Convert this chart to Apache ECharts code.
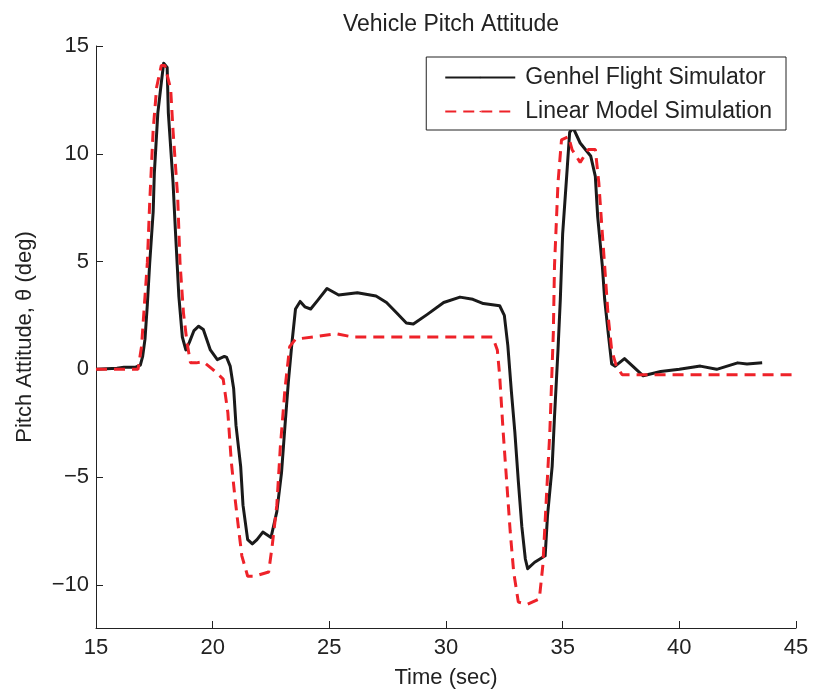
<!DOCTYPE html>
<html>
<head>
<meta charset="utf-8">
<script src="https://cdn.jsdelivr.net/npm/echarts@6/dist/echarts.min.js"></script>
<style>
  html, body { margin: 0; padding: 0; background: #fff; }
  #chart { width: 814px; height: 694px; }
</style>
</head>
<body>
<div id="chart"></div>
<script>
// Pitch attitude response: nonlinear Genhel simulation vs. linear model
const genhelTime = [15.0, 15.9, 16.2, 16.7, 16.9, 17.0, 17.1, 17.2, 17.3, 17.45, 17.5, 17.65, 17.8, 17.9, 18.05, 18.1, 18.3, 18.4, 18.55, 18.7, 18.85, 19.0, 19.2, 19.4, 19.6, 19.9, 20.2, 20.5, 20.6, 20.75, 20.9, 21.0, 21.2, 21.3, 21.5, 21.7, 21.9, 22.15, 22.5, 22.75, 22.95, 23.1, 23.25, 23.4, 23.55, 23.75, 23.95, 24.2, 24.5, 24.9, 25.4, 26.2, 27.0, 27.45, 27.9, 28.3, 28.6, 29.2, 29.9, 30.6, 31.15, 31.6, 32.3, 32.5, 32.65, 32.8, 32.95, 33.1, 33.25, 33.4, 33.5, 33.8, 34.25, 34.35, 34.55, 34.65, 34.8, 34.9, 35.0, 35.2, 35.3, 35.45, 35.75, 36.2, 36.4, 36.5, 36.7, 36.8, 36.95, 37.1, 37.25, 37.65, 38.0, 38.45, 39.2, 40.0, 40.9, 41.6, 42.5, 42.9, 43.55];
const genhelPitch = [0, 0.05, 0.1, 0.1, 0.2, 0.6, 1.4, 3.0, 4.9, 7.3, 9.1, 11.9, 13.3, 14.2, 14.0, 11.9, 8.7, 6.5, 3.4, 1.5, 0.9, 1.25, 1.8, 2.0, 1.85, 0.9, 0.45, 0.6, 0.55, 0.15, -0.9, -2.6, -4.5, -6.3, -7.9, -8.1, -7.9, -7.55, -7.8, -6.6, -4.8, -2.6, -0.5, 1.25, 2.8, 3.15, 2.9, 2.8, 3.2, 3.75, 3.45, 3.55, 3.4, 3.1, 2.6, 2.15, 2.1, 2.55, 3.1, 3.35, 3.25, 3.05, 2.95, 2.5, 1.1, -1.0, -2.9, -5.2, -7.3, -8.8, -9.25, -8.95, -8.65, -6.8, -4.5, -2.2, 0.9, 3.25, 6.3, 9.4, 11.0, 11.2, 10.5, 9.9, 8.95, 7.1, 4.8, 3.25, 1.7, 0.25, 0.15, 0.5, 0.15, -0.3, -0.1, 0, 0.15, 0, 0.3, 0.25, 0.3];

const linearTime = [15.0, 16.8, 16.95, 17.2, 17.3, 17.45, 17.6, 17.8, 17.95, 18.2, 18.3, 18.5, 18.6, 18.75, 18.9, 19.05, 19.3, 19.6, 20.0, 20.45, 20.65, 20.8, 20.95, 21.1, 21.25, 21.5, 21.8, 22.4, 22.55, 22.75, 22.9, 23.1, 23.3, 23.55, 24.3, 25.3, 26.0, 32.0, 32.2, 32.3, 32.45, 32.6, 32.75, 32.9, 33.1, 33.5, 34.0, 34.15, 34.3, 34.45, 34.6, 34.65, 34.8, 34.95, 35.25, 35.4, 35.75, 36.1, 36.4, 36.55, 36.7, 36.8, 36.95, 37.1, 37.3, 37.55, 38.0, 45.0];
const linearPitch = [0, 0, 1.05, 4.95, 7.7, 11.1, 13.1, 14.1, 14.1, 13.0, 11.1, 8.0, 4.95, 2.6, 1.25, 0.3, 0.3, 0.35, 0, -0.45, -2.0, -4.3, -5.9, -7.3, -8.65, -9.6, -9.6, -9.4, -8.2, -6.3, -3.6, -0.9, 1.05, 1.4, 1.5, 1.65, 1.5, 1.5, 0.9, -0.3, -2.9, -5.2, -7.5, -9.4, -10.8, -10.9, -10.65, -9.1, -6.0, -2.9, 1.7, 4.8, 8.65, 10.65, 10.8, 10.2, 9.6, 10.2, 10.2, 8.65, 6.3, 4.8, 2.45, 0.9, 0.15, -0.25, -0.25, -0.25];

const yTicks = [-10, -5, 0, 5, 10, 15];

const pair = (xs, ys) => xs.map((x, i) => [x, ys[i]]);
const FONT = '"Liberation Sans", Arial, Helvetica, sans-serif';
const INK = '#222';

const chart = echarts.init(document.getElementById('chart'), null, { renderer: 'canvas' });
chart.setOption({
  animation: false,
  backgroundColor: '#ffffff',
  title: {
    text: 'Vehicle Pitch Attitude',
    left: 446,
    top: 8,
    textAlign: 'center',
    textStyle: { fontFamily: FONT, fontSize: 23, fontWeight: 'normal', color: INK }
  },
  grid: { left: 96, right: 18, top: 46, bottom: 65, containLabel: false },
  legend: {
    orient: 'vertical',
    right: 28,
    top: 57,
    backgroundColor: '#fff',
    borderColor: INK,
    borderWidth: 1,
    borderRadius: 0,
    padding: [9, 14, 7, 18],
    itemWidth: 70,
    itemHeight: 2,
    itemGap: 11,
    textStyle: { fontFamily: FONT, fontSize: 23, color: INK, padding: [0, 0, 0, 5] },
    data: ['Genhel Flight Simulator', 'Linear Model Simulation']
  },
  xAxis: {
    type: 'value',
    min: 15, max: 45, interval: 5,
    name: 'Time (sec)',
    nameLocation: 'middle',
    nameGap: 39,
    nameTextStyle: { fontFamily: FONT, fontSize: 22, color: INK },
    axisLine: { onZero: false, lineStyle: { color: INK, width: 1 } },
    axisTick: { inside: true, length: 7, lineStyle: { color: INK } },
    axisLabel: { fontFamily: FONT, fontSize: 22, color: INK, margin: 9 },
    splitLine: { show: false }
  },
  yAxis: {
    type: 'value',
    min: -12, max: 15,
    name: 'Pitch Attitude, θ (deg)',
    nameLocation: 'middle',
    nameGap: 60,
    nameRotate: 90,
    nameTextStyle: { fontFamily: FONT, fontSize: 22, color: INK },
    axisLine: { show: true, lineStyle: { color: INK, width: 1 } },
    axisTick: { inside: true, length: 7, lineStyle: { color: INK }, customValues: yTicks },
    axisLabel: { fontFamily: FONT, fontSize: 22, color: INK, margin: 7, customValues: yTicks,
      formatter: v => (v < 0 ? '\u2212' + Math.abs(v) : String(v)) },
    splitLine: { show: false }
  },
  series: [
    {
      name: 'Genhel Flight Simulator',
      type: 'line',
      data: pair(genhelTime, genhelPitch),
      symbol: 'none',
      z: 3,
      lineStyle: { color: '#1a1a1a', width: 3, join: 'round' },
      itemStyle: { color: '#1a1a1a' }
    },
    {
      name: 'Linear Model Simulation',
      type: 'line',
      data: pair(linearTime, linearPitch),
      symbol: 'none',
      z: 4,
      lineStyle: { color: '#ee2229', width: 3, type: [11, 7] },
      itemStyle: { color: '#ee2229' }
    }
  ]
});
</script>
</body>
</html>
